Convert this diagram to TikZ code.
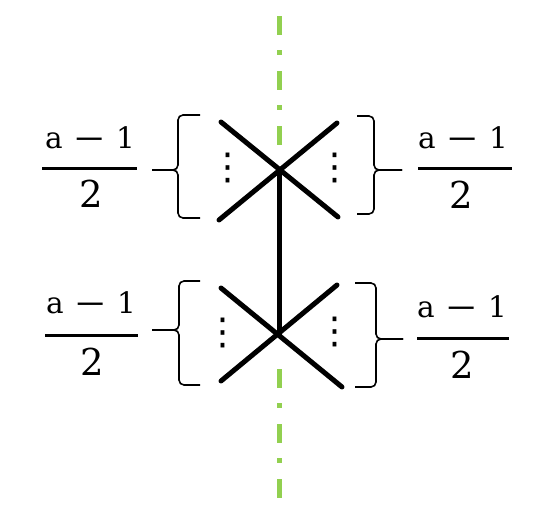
\documentclass[tikz,border=0pt]{standalone}
\usepackage{fontspec}
\newfontfamily\dvfont{DejaVu Sans}
\newfontfamily\fracfont{DejaVu Serif}
\definecolor{axisgreen}{HTML}{92D050}
\newcommand\BraceDraw[6]{% tipx spinex top bottom middle tailx
  \draw[bracestyle] (#1,#3) -- (#2,#3) -- (#2,#5) -- (#6,#5);
  \draw[bracestyle] (#6,#5) -- (#2,#5) -- (#2,#4) -- (#1,#4);
}
\newcommand\NumText{a\hspace{10pt}\scalebox{1.35}[1]{−}\hspace{10pt}1}
\tikzset{
  xline/.style={line width=5pt, line cap=round},
  stem/.style={line width=5pt},
  bracestyle/.style={line width=1.6pt, rounded corners=5pt},
  fracbar/.style={line width=3pt},
  numtext/.style={anchor=base, inner sep=0pt, font=\fracfont\fontsize{29.5}{35}\selectfont},
  dentext/.style={anchor=base, inner sep=0pt, font=\fracfont\fontsize{37}{44}\selectfont},
  vdotsnode/.style={inner sep=0pt, font=\dvfont\fontsize{37}{44}\selectfont},
  axisline/.style={axisgreen, line width=4.8pt, dash pattern=on 19pt off 15pt on 5pt off 16pt, dash phase=39pt},
}
\begin{document}
\begin{tikzpicture}[x=1pt,y=-1pt]
\useasboundingbox[fill=white] (0,0) rectangle (546,522);
% symmetry axis
\coordinate (gA) at (279.5,0);
\coordinate (gB) at (279.5,150);
\coordinate (gC) at (279.5,353);
\coordinate (gD) at (279.5,498);
\draw[axisline] (gA) -- (gB);
\draw[axisline] (gC) -- (gD);
% crossing centres
\coordinate (c1) at (279,169);
\coordinate (c2) at (279,335);
\draw[stem] (c1) -- (c2);
% top X
\coordinate (t1a) at (221,122); \coordinate (t1b) at (338,217);
\coordinate (t2a) at (337,123); \coordinate (t2b) at (219,220);
\draw[xline] (t1a) -- (t1b);
\draw[xline] (t2a) -- (t2b);
% bottom X
\coordinate (b1a) at (221,288); \coordinate (b1b) at (342,387);
\coordinate (b2a) at (337,285); \coordinate (b2b) at (221,381);
\draw[xline] (b1a) -- (b1b);
\draw[xline] (b2a) -- (b2b);
% dots
\node[vdotsnode] (dTL) at (228,168) {⋮};
\node[vdotsnode] (dTR) at (335,168) {⋮};
\node[vdotsnode] (dBL) at (223,333) {⋮};
\node[vdotsnode] (dBR) at (335,332) {⋮};
% braces
\BraceDraw{200}{178}{115}{218}{170}{152}
\BraceDraw{200}{179}{281}{385}{330}{152}
\BraceDraw{357}{374}{116}{214}{170}{402}
\BraceDraw{355}{376}{283}{387}{339}{403}
% fractions
\node[numtext] (nTL) at (90,148) {\NumText};
\draw[fracbar] (42,168) -- (137,168);
\node[dentext] (zTL) at (91,207) {2};
\node[numtext] (nTR) at (463,148) {\NumText};
\draw[fracbar] (418,168) -- (512,168);
\node[dentext] (zTR) at (461,208) {2};
\node[numtext] (nBL) at (91,313) {\NumText};
\draw[fracbar] (45,335) -- (138,335);
\node[dentext] (zBL) at (92,375) {2};
\node[numtext] (nBR) at (462,317) {\NumText};
\draw[fracbar] (417,338) -- (509,338);
\node[dentext] (zBR) at (462,378) {2};
\end{tikzpicture}
\end{document}
